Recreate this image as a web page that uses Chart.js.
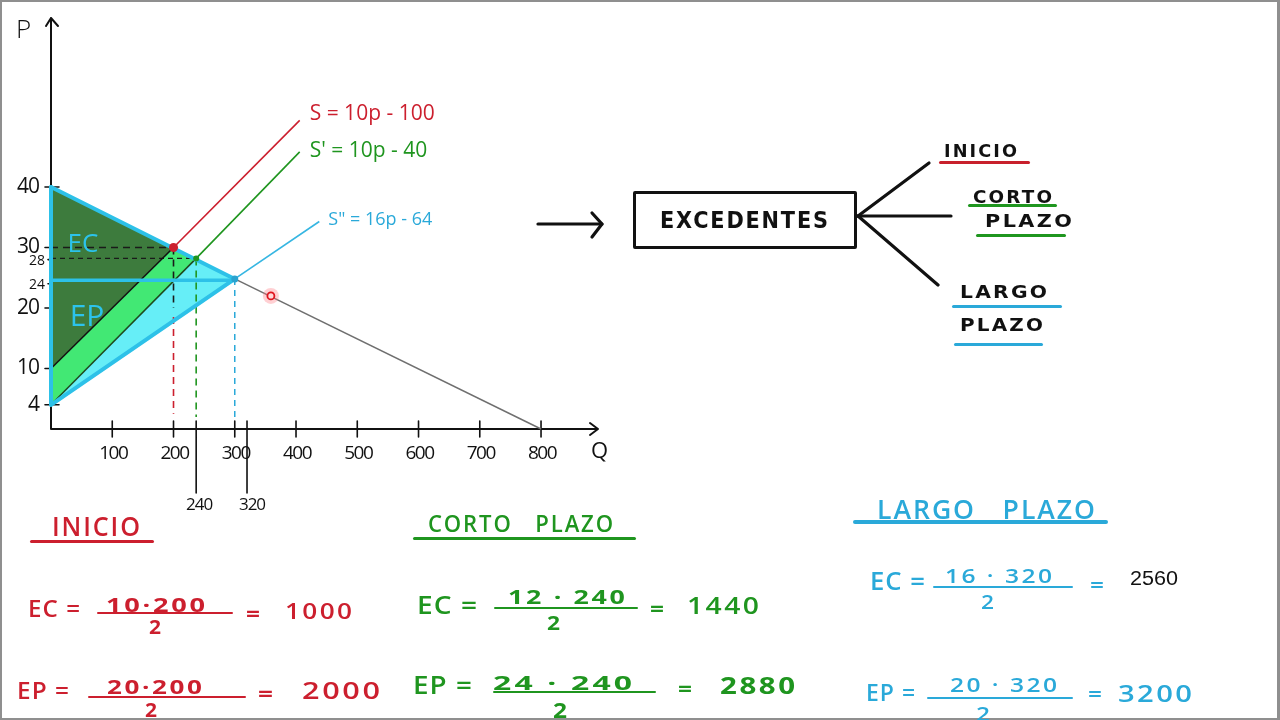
<!DOCTYPE html>
<html>
<head>
<meta charset="utf-8">
<script src="https://cdn.jsdelivr.net/npm/chart.js@4.4.0/dist/chart.umd.min.js"></script>
<style>
html,body{margin:0;padding:0;background:#fff;}
#wrap{position:relative;width:1280px;height:720px;overflow:hidden;background:#fff;}
#c{position:absolute;left:0;top:0;}
#frame{position:absolute;left:0;top:0;width:1280px;height:720px;box-sizing:border-box;border:2px solid #8f8f8f;border-right-width:3px;pointer-events:none;}
.t{position:absolute;white-space:pre;line-height:1;}
.hl{position:absolute;}
#box{position:absolute;left:633px;top:191px;width:224px;height:58px;box-sizing:border-box;border:3px solid #111;border-radius:2px;}
svg{position:absolute;left:0;top:0;}
</style>
</head>
<body>
<div id="wrap">
<canvas id="c" width="1280" height="720"></canvas>
<svg width="1280" height="720" viewBox="0 0 1280 720">
  <g stroke="#111" stroke-width="3.2" stroke-linecap="round" stroke-linejoin="round" fill="none">
    <line x1="538" y1="224" x2="602" y2="224"/>
    <polyline points="592,213 602,224 592,237"/>
    <line x1="858" y1="216" x2="929" y2="163"/>
    <line x1="858" y1="216" x2="951" y2="216"/>
    <line x1="858" y1="216" x2="938" y2="285"/>
  </g>
</svg>
<div id="box"></div>
<div id="frame"></div>
</div>
<script>
// ---------- DATA ----------
const priceTicks = [4, 10, 20, 24, 28, 30, 40];
const smallPriceTicks = [24, 28];
const quantityTicks = [100, 200, 300, 400, 500, 600, 700, 800];
const markedQuantities = [237, 320];
const markedQuantityLabels = ['240', '320'];

// Demand (gray, with cyan part up to the long-run equilibrium)
const demandQ = [0, 300, 800];
const demandP = [40, 24.8, 0];
// S = 10p - 100
const supplyQ = [0, 200, 406];
const supplyP = [10, 30, 51];
// S' = 10p - 40
const supply1Q = [0, 237, 406];
const supply1P = [4, 28.2, 45.8];
// S'' = 16p - 64
const supply2Q = [0, 300, 438];
const supply2P = [4, 24.8, 34.3];
// equilibria: inicio, corto plazo, largo plazo
const equilibriumQ = [200, 237, 300];
const equilibriumP = [30, 28.2, 24.8];
const longRunPriceLine = 24.6;
// pointer marker on demand
const cursorQ = [359];
const cursorP = [22];

const RED = '#cc1f2e', GREEN = '#1f951f', CYAN = '#2aa9d9';

// ---------- helpers ----------
const pts = (qs, ps) => qs.map((q, i) => ({x: q, y: ps[i]}));

const datasets = [];
function add(ds) { datasets.push(Object.assign({showLine: true, pointRadius: 0, borderWidth: 0, fill: false, clip: false, tension: 0}, ds)); }

// Fills
add({ // dark green: EC + EP at inicio
  data: pts([0, equilibriumQ[0], 0], [demandP[0], equilibriumP[0], supplyP[0]]),
  fill: 'shape', backgroundColor: '#3d7b3d', borderColor: 'rgba(0,0,0,0)'
});
add({ // bright green: added EP at corto plazo
  data: pts([0, equilibriumQ[0], equilibriumQ[1], 0], [supplyP[0], equilibriumP[0], equilibriumP[1], supply1P[0]]),
  fill: 'shape', backgroundColor: '#42e874', borderColor: 'rgba(0,0,0,0)'
});
add({ // light cyan: added at largo plazo
  data: pts([0, equilibriumQ[1], equilibriumQ[2]], [supply1P[0], equilibriumP[1], equilibriumP[2]]),
  fill: 'shape', backgroundColor: '#66eef7', borderColor: 'rgba(0,0,0,0)'
});

// Dashed guides
const dash = [7, 5];
add({data: pts([0, equilibriumQ[0]], [equilibriumP[0], equilibriumP[0]]), borderColor: '#1a1a1a', borderWidth: 1.6, borderDash: dash});
add({data: pts([0, equilibriumQ[1]], [equilibriumP[1], equilibriumP[1]]), borderColor: '#1a1a1a', borderWidth: 1.4, borderDash: [5, 4]});
add({data: pts([equilibriumQ[0], equilibriumQ[0]], [equilibriumP[0], 20]), borderColor: '#1a1a1a', borderWidth: 1.6, borderDash: dash});
add({data: pts([equilibriumQ[0], equilibriumQ[0]], [18.5, 2.5]), borderColor: RED, borderWidth: 1.6, borderDash: dash});
add({data: pts([equilibriumQ[1], equilibriumQ[1]], [equilibriumP[1], 2]), borderColor: GREEN, borderWidth: 1.6, borderDash: dash});
add({data: pts([equilibriumQ[2], equilibriumQ[2]], [equilibriumP[2], 2]), borderColor: CYAN, borderWidth: 1.5, borderDash: [6, 5]});

// Thin curves
add({data: pts(demandQ.slice(1), demandP.slice(1)), borderColor: '#6f6f6f', borderWidth: 1.5});
add({data: pts(supplyQ.slice(0, 2), supplyP.slice(0, 2)), borderColor: '#111', borderWidth: 1.6});
add({data: pts(supplyQ.slice(1), supplyP.slice(1)), borderColor: RED, borderWidth: 1.6});
add({data: pts(supply1Q.slice(0, 2), supply1P.slice(0, 2)), borderColor: '#1d4a1d', borderWidth: 1.5});
add({data: pts(supply1Q.slice(1), supply1P.slice(1)), borderColor: GREEN, borderWidth: 1.6});
add({data: pts(supply2Q.slice(1), supply2P.slice(1)), borderColor: '#36b6e2', borderWidth: 1.6});

// Thick cyan outline
const OUT = '#2dc1e8';
add({data: pts(demandQ.slice(0, 2), demandP.slice(0, 2)), borderColor: OUT, borderWidth: 4, borderCapStyle: 'round'});
add({data: pts(supply2Q.slice(0, 2), supply2P.slice(0, 2)), borderColor: OUT, borderWidth: 4, borderCapStyle: 'round'});
add({data: pts([0, 0], [supply2P[0], demandP[0]]), borderColor: OUT, borderWidth: 4, borderCapStyle: 'round'});
add({data: pts([0, equilibriumQ[2]], [longRunPriceLine, longRunPriceLine]), borderColor: OUT, borderWidth: 3.5});

// Points
add({showLine: false, data: pts([equilibriumQ[0]], [equilibriumP[0]]), pointRadius: 4.5, backgroundColor: RED, pointBorderWidth: 0});
add({showLine: false, data: pts([equilibriumQ[1]], [equilibriumP[1]]), pointRadius: 3, backgroundColor: GREEN, pointBorderWidth: 0});
add({showLine: false, data: pts([equilibriumQ[2]], [equilibriumP[2]]), pointRadius: 3.5, backgroundColor: '#2aa3cf', pointBorderWidth: 0});
add({showLine: false, data: pts(cursorQ, cursorP), pointRadius: 8, backgroundColor: 'rgba(255,120,130,0.35)', pointBorderWidth: 0});
add({showLine: false, data: pts(cursorQ, cursorP), pointRadius: 3.5, backgroundColor: '#ffd9d9', borderColor: '#e0141e', pointBorderWidth: 1.8});

// first element drawn at bottom
datasets.forEach((d, i) => { d.order = datasets.length - i; });

const axesPlugin = {
  id: 'axesPlugin',
  beforeDatasetsDraw(chart) {
    const {ctx} = chart, xs = chart.scales.x, ys = chart.scales.y;
    const x0 = xs.getPixelForValue(0), y0 = ys.getPixelForValue(0);
    const top = chart.chartArea.top, right = chart.chartArea.right;
    ctx.save();
    ctx.strokeStyle = '#111'; ctx.lineWidth = 2; ctx.lineCap = 'round'; ctx.lineJoin = 'round';
    ctx.beginPath();
    ctx.moveTo(x0, y0); ctx.lineTo(x0, top);
    ctx.moveTo(x0 - 5, top + 8); ctx.lineTo(x0, top); ctx.lineTo(x0 + 7, top + 8);
    ctx.moveTo(x0, y0); ctx.lineTo(right, y0);
    ctx.moveTo(right - 8, y0 - 6); ctx.lineTo(right, y0); ctx.lineTo(right - 8, y0 + 6);
    ctx.stroke();
    ctx.lineWidth = 1.6;
    ctx.beginPath();
    priceTicks.forEach(v => {
      const y = ys.getPixelForValue(v);
      const small = smallPriceTicks.includes(v);
      ctx.moveTo(x0 - (small ? 3 : 6), y); ctx.lineTo(x0 + (small ? 6 : 8), y);
    });
    quantityTicks.forEach(v => {
      const x = xs.getPixelForValue(v);
      ctx.moveTo(x, y0 - 8); ctx.lineTo(x, y0 + 8);
    });
    markedQuantities.forEach(v => {
      const x = xs.getPixelForValue(v);
      ctx.moveTo(x, y0 - 8); ctx.lineTo(x, y0 + 64);
    });
    ctx.stroke();
    ctx.restore();
  },
  afterDatasetsDraw(chart) {
    const {ctx} = chart, xs = chart.scales.x, ys = chart.scales.y;
    const x0 = xs.getPixelForValue(0), y0 = ys.getPixelForValue(0);
    ctx.save();
    ctx.textBaseline = 'middle';
    ctx.fillStyle = '#111';
    // price tick labels
    priceTicks.forEach(v => {
      const small = smallPriceTicks.includes(v);
      ctx.font = (small ? '400 14px' : '400 21px') + ' "Open Sans", sans-serif';
      ctx.textAlign = 'right';
      ctx.letterSpacing = small ? '0px' : '-1px';
      ctx.fillText(String(v), x0 - (small ? 6 : 12), ys.getPixelForValue(v) + (small ? 1 : 0));
    });
    // quantity tick labels
    ctx.font = '400 19px "Open Sans", sans-serif';
    ctx.letterSpacing = '-1.5px';
    ctx.textAlign = 'center';
    quantityTicks.forEach(v => {
      ctx.fillText(String(v), xs.getPixelForValue(v) + 1, y0 + 25);
    });
    ctx.font = '400 17px "Open Sans", sans-serif';
    ctx.letterSpacing = '-1px';
    markedQuantities.forEach((v, i) => {
      ctx.fillText(markedQuantityLabels[i], xs.getPixelForValue(v) + 3 + i * 2, y0 + 76);
    });
    ctx.letterSpacing = '0px';
    ctx.font = '400 22px "Open Sans", sans-serif';
    ctx.textAlign = 'left';
    ctx.fillText('Q', chart.chartArea.right - 7, y0 + 23);
    ctx.font = '300 26px "Open Sans", sans-serif';
    ctx.fillText('P', 16, 31);
    // surplus labels
    ctx.fillStyle = '#2cc3ec';
    ctx.font = '400 26px "Open Sans", sans-serif';
    ctx.textAlign = 'center';
    ctx.fillText('EC', 83, 245);
    ctx.font = '400 30px "Open Sans", sans-serif';
    ctx.fillText('EP', 87, 317);
    // supply equations
    ctx.textAlign = 'left';
    ctx.font = '400 21px "Open Sans", sans-serif';
    ctx.fillStyle = RED;
    ctx.fillText('S = 10p - 100', xs.getPixelForValue(supplyQ[2]) + 10, ys.getPixelForValue(supplyP[2]) - 6);
    ctx.fillStyle = GREEN;
    ctx.fillText("S' = 10p - 40", xs.getPixelForValue(supply1Q[2]) + 10, ys.getPixelForValue(supply1P[2]) - 1);
    ctx.fillStyle = CYAN;
    ctx.font = '400 18px "Open Sans", sans-serif';
    ctx.fillText('S" = 16p - 64', xs.getPixelForValue(supply2Q[2]) + 9, ys.getPixelForValue(supply2P[2]) - 2);
    ctx.restore();
  }
};

new Chart(document.getElementById('c'), {
  type: 'scatter',
  data: {datasets},
  options: {
    responsive: false,
    animation: false,
    events: [],
    layout: {padding: {left: 51, right: 682, top: 18, bottom: 291}},
    scales: {
      x: {type: 'linear', min: 0, max: 893, display: false},
      y: {type: 'linear', min: 0, max: 67.93, display: false}
    },
    plugins: {legend: {display: false}, tooltip: {enabled: false}}
  },
  plugins: [axesPlugin]
});

// ---------- annotations (real HTML text) ----------
const wrap = document.getElementById('wrap');
const HAND = '"Open Sans", "DejaVu Sans", sans-serif';
const MARK = '"DejaVu Sans", sans-serif';
function txt(s, x0, x1, cy, size, color, weight, family, ls) {
  const d = document.createElement('div');
  d.className = 't';
  d.textContent = s;
  d.style.fontSize = size + 'px';
  d.style.color = color;
  d.style.fontWeight = weight;
  d.style.fontFamily = family;
  if (ls) d.style.letterSpacing = ls + 'px';
  d.style.left = x0 + 'px';
  d.style.top = (cy - size / 2) + 'px';
  d.style.transformOrigin = '0 50%';
  wrap.appendChild(d);
  const w = d.getBoundingClientRect().width - (ls || 0);
  d.style.transform = 'scaleX(' + ((x1 - x0) / w).toFixed(3) + ')';
}
function hl(x0, x1, y, th, color) {
  const d = document.createElement('div');
  d.className = 'hl';
  d.style.left = x0 + 'px'; d.style.top = (y - th / 2) + 'px';
  d.style.width = (x1 - x0) + 'px'; d.style.height = th + 'px';
  d.style.background = color; d.style.borderRadius = (th / 2) + 'px';
  wrap.appendChild(d);
}

// Diagram on the right
txt('EXCEDENTES', 660, 828, 220, 23, '#111', 700, MARK, 2);
txt('INICIO', 944, 1017, 151, 17, '#111', 700, MARK, 2);
hl(939, 1030, 162, 3, '#c8202c');
txt('CORTO', 973, 1052, 197, 17, '#111', 700, MARK, 2);
hl(968, 1057, 205, 3, '#1f961f');
txt('PLAZO', 985, 1072, 221, 17, '#111', 700, MARK, 2);
hl(976, 1066, 235, 3, '#1f961f');
txt('LARGO', 960, 1047, 292, 18, '#111', 700, MARK, 2);
hl(952, 1062, 306, 3, '#2aa9d9');
txt('PLAZO', 960, 1043, 325, 18, '#111', 700, MARK, 2);
hl(954, 1043, 344, 3, '#2aa9d9');

// INICIO block
txt('INICIO', 52, 140, 525, 27, RED, 600, HAND, 2);
hl(30, 154, 541, 3, RED);
txt('EC =', 28, 80, 608, 23, RED, 600, HAND, 1);
txt('10·200', 106, 205, 605, 20, RED, 700, HAND, 2);
hl(97, 233, 613, 2.5, RED);
txt('2', 149, 161, 627, 20, RED, 700, HAND);
txt('=', 246, 260, 612, 22, RED, 700, HAND);
txt('1000', 285, 352, 610, 22, RED, 600, HAND, 2);
txt('EP =', 17, 69, 690, 23, RED, 600, HAND, 1);
txt('20·200', 107, 202, 687, 20, RED, 700, HAND, 2);
hl(88, 246, 697, 2.5, RED);
txt('2', 145, 157, 710, 20, RED, 700, HAND);
txt('=', 258, 273, 692, 22, RED, 700, HAND);
txt('2000', 302, 380, 690, 23, RED, 600, HAND, 2);

// CORTO PLAZO block
txt('CORTO   PLAZO', 428, 613, 523, 24, GREEN, 600, HAND, 2);
hl(413, 636, 538, 3, GREEN);
txt('EC =', 417, 477, 604, 26, GREEN, 600, HAND, 1);
txt('12 · 240', 508, 625, 597, 20, GREEN, 700, HAND, 2);
hl(494, 638, 608, 2.5, GREEN);
txt('2', 547, 560, 623, 20, GREEN, 700, HAND);
txt('=', 650, 664, 607, 22, GREEN, 700, HAND);
txt('1440', 687, 759, 605, 23, GREEN, 600, HAND, 2);
txt('EP =', 413, 472, 684, 25, GREEN, 600, HAND, 1);
txt('24 · 240', 493, 632, 683, 20, GREEN, 700, HAND, 2);
hl(493, 656, 692, 2.5, GREEN);
txt('2', 553, 567, 710, 21, GREEN, 700, HAND);
txt('=', 678, 692, 687, 22, GREEN, 700, HAND);
txt('2880', 720, 795, 685, 23, GREEN, 700, HAND, 2);

// LARGO PLAZO block
txt('LARGO   PLAZO', 877, 1095, 508, 27, CYAN, 600, HAND, 2);
hl(853, 1108, 522, 4, CYAN);
txt('EC =', 870, 925, 580, 25, CYAN, 600, HAND, 1);
txt('16 · 320', 945, 1052, 576, 20, CYAN, 600, HAND, 2);
hl(933, 1073, 587, 2.5, CYAN);
txt('2', 981, 994, 602, 20, CYAN, 600, HAND);
txt('=', 1090, 1104, 584, 22, CYAN, 600, HAND);
txt('2560', 1130, 1178, 578, 20, '#111', 400, '"Liberation Sans", Arial, sans-serif');
txt('EP =', 866, 915, 692, 23, CYAN, 600, HAND, 1);
txt('20 · 320', 950, 1057, 685, 20, CYAN, 600, HAND, 2);
hl(927, 1073, 698, 2.5, CYAN);
txt('2', 976, 990, 714, 20, CYAN, 600, HAND);
txt('=', 1088, 1102, 693, 22, CYAN, 600, HAND);
txt('3200', 1118, 1192, 693, 24, CYAN, 600, HAND, 2);
</script>
</body>
</html>
